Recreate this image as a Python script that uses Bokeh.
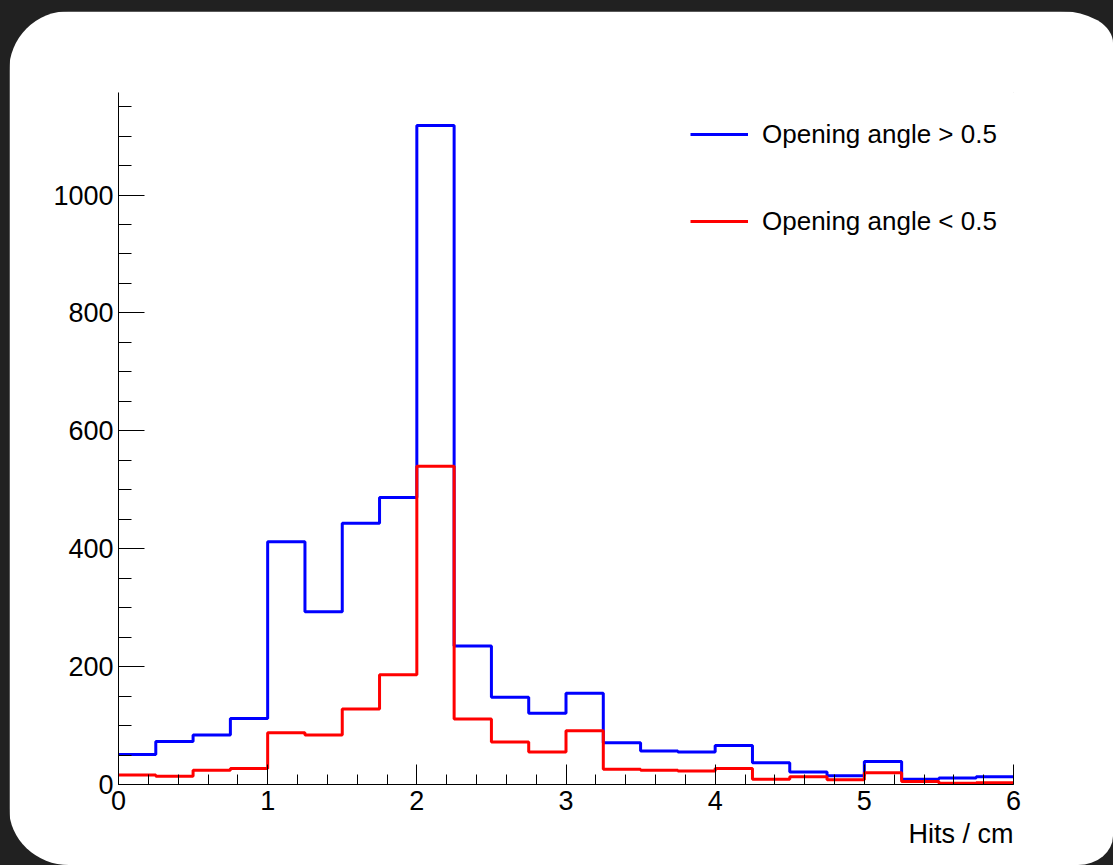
from bokeh.plotting import figure
from bokeh.models import (Range1d, SingleIntervalTicker, Legend, LegendItem, Title, Column)
from bokeh.embed import file_html
from bokeh.resources import INLINE

# ---- data ----
bin_edges = [0.0, 0.25, 0.5, 0.75, 1.0, 1.25, 1.5, 1.75, 2.0, 2.25, 2.5, 2.75,
             3.0, 3.25, 3.5, 3.75, 4.0, 4.25, 4.5, 4.75, 5.0, 5.25, 5.5, 5.75, 6.0]
wide_angle = [51, 73, 84, 112, 412, 293, 443, 487, 1118, 235, 148, 121,
              155, 71, 57, 55, 66, 37, 21, 15, 39, 9, 11, 13]
narrow_angle = [16, 14, 24, 27, 88, 84, 128, 186, 540, 111, 72, 55,
                91, 26, 24, 23, 27, 9, 13, 8, 20, 5, 2, 3]
series_labels = ["Opening angle > 0.5", "Opening angle < 0.5"]
x_title = "Hits / cm"

FONT = "Liberation Sans"
ymax = max(wide_angle) * 1.05

p = figure(width=1104, height=854, x_range=Range1d(0, 6), y_range=Range1d(0, ymax),
           output_backend="svg", toolbar_location=None,
           min_border_left=109, min_border_right=100, min_border_top=81, min_border_bottom=81)
p.margin = (11, 0, 0, 9)
p.styles = {"border-radius": "60px 53px 35px 60px / 60px 32px 29px 57px", "overflow": "hidden"}
p.background_fill_color = "white"
p.border_fill_color = "white"
# paint the frame outline white so no box shows on top / right
p.outline_line_color = "white"
p.outline_line_alpha = 1.0
p.outline_line_width = 1
p.xgrid.visible = False
p.ygrid.visible = False

rb = p.step(bin_edges, wide_angle + [wide_angle[-1]], mode="after", line_color="#0000ff", line_width=3)
rr = p.step(bin_edges, narrow_angle + [narrow_angle[-1]], mode="after", line_color="#ff0000", line_width=3)

p.xaxis.ticker = SingleIntervalTicker(interval=1, num_minor_ticks=5)
p.yaxis.ticker = SingleIntervalTicker(interval=200, num_minor_ticks=4)
for ax, maj, mnr, so in ((p.xaxis, 20, 10, 6), (p.yaxis, 26, 13, 5)):
    ax.major_tick_in = maj
    ax.major_tick_out = 0
    ax.minor_tick_in = mnr
    ax.minor_tick_out = 0
    ax.major_label_standoff = so
    ax.axis_line_color = "black"
    ax.major_tick_line_color = "black"
    ax.minor_tick_line_color = "black"
    ax.major_label_text_font = FONT
    ax.major_label_text_font_size = "27px"
    ax.major_label_text_color = "black"

p.add_layout(Title(text=x_title, align="right", text_font=FONT, text_font_size="27px",
                   text_font_style="normal", text_color="black", standoff=9), "below")

legend = Legend(items=[LegendItem(label=series_labels[0], renderers=[rb]),
                       LegendItem(label=series_labels[1], renderers=[rr])],
                location=(572, 543), padding=0, margin=0, spacing=47,
                glyph_width=58, glyph_height=40, label_height=40, label_standoff=14,
                border_line_color=None, background_fill_alpha=0,
                label_text_font=FONT, label_text_font_size="26px", label_text_color="black")
p.add_layout(legend)

page = Column(children=[p], width=1113, height=865,
              styles={"background-color": "#212121"})

open("out.html", "w").write(file_html(page, INLINE))
